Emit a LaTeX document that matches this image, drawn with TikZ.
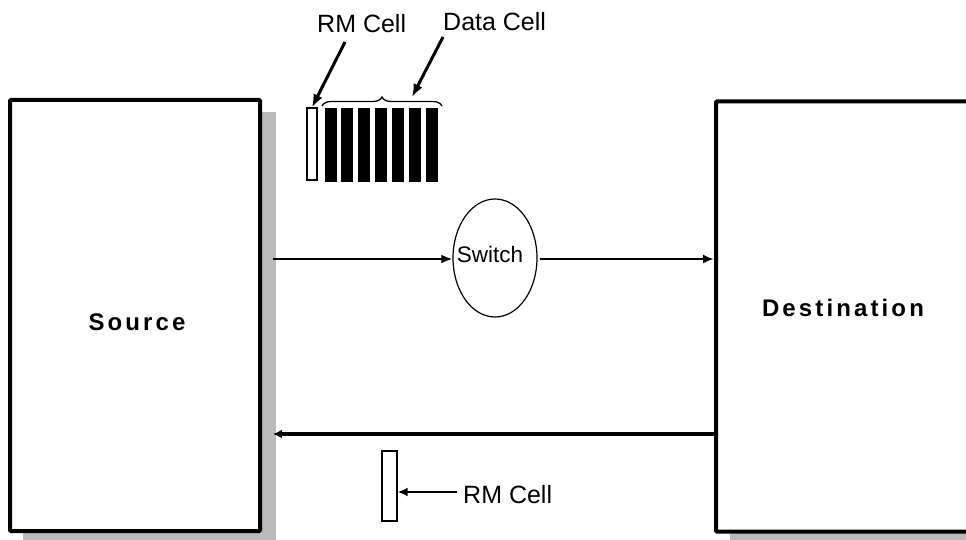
\documentclass[tikz,border=0pt]{standalone}
\usepackage{fontspec}
\setmainfont{Liberation Sans}
\newfontfamily\boxfont[LetterSpace=13]{Liberation Sans Bold}
\usetikzlibrary{arrows.meta,shapes.geometric,decorations.pathreplacing}
\tikzset{
  bigbox/.style={draw, line width=4pt, fill=white, rectangle, inner sep=0pt, rounded corners=1pt},
  shadowbox/.style={fill=black!27, draw=none, rectangle, inner sep=0pt},
  cellw/.style={draw, line width=1.3pt, fill=white, rectangle, inner sep=0pt},
  cellb/.style={draw=none, fill=black, rectangle, inner sep=0pt, minimum width=12pt, minimum height=74pt},
  lbl/.style={font=\fontsize{25}{28}\selectfont, inner sep=0pt},
  boxlbl/.style={font=\fontsize{24}{28}\boxfont, inner sep=0pt},
  flow/.style={line width=2.6pt, -{Latex[length=11pt,width=9pt]}},
  back/.style={line width=4pt, -{Latex[length=9pt,width=9pt]}},
  ptr/.style={line width=3pt, -{Latex[length=13pt,width=10pt]}}
}
\begin{document}
\begin{tikzpicture}[x=1pt,y=-1pt]
\useasboundingbox (0,0) rectangle (966,540);
\clip (0,0) rectangle (966,540);
% shadows
\node[shadowbox, minimum width=253pt, minimum height=440pt] (srcsh) at (149.5,332) {};
\node[shadowbox, minimum width=284pt, minimum height=431pt] (dstsh) at (872,328) {};
% boxes
\node[bigbox, minimum width=250pt, minimum height=431pt] (src) at (135,315.5) {};
\node[bigbox, minimum width=284pt, minimum height=430pt] (dst) at (858,316.5) {};
\node[boxlbl] (srct) at (137,322) {Source};
\node[boxlbl] (dstt) at (843,307.5) {Destination};
% switch
\node[ellipse, draw, line width=1.2pt, minimum width=84pt, minimum height=118pt, inner sep=0pt] (sw) at (495,258) {};
\node[font=\fontsize{22.5}{26}\selectfont, inner sep=0pt, anchor=base] (swt) at (490,262) {Switch};
% forward flow
\coordinate (fstart) at (273,259);
\draw[flow] (fstart) -- (fstart -| sw.west);
\draw[flow] ([xshift=2pt]sw.east |- fstart) -- (fstart -| dst.west);
% return flow
\coordinate (rend) at (273,434);
\draw[back] (rend -| dst.west) -- (rend);
% top cells
\node[cellw, minimum width=10pt, minimum height=72pt] (rm1) at (312,144) {};
\foreach \i in {0,...,6} {
  \node[cellb] (d\i) at (330.5+16.9*\i,145) {};
}
\draw[line width=1.3pt, decorate, decoration={brace, amplitude=9pt}] (322,106) -- (442,106);
\node[lbl, anchor=base west] (lrm1) at (317,33) {RM Cell};
\node[lbl, anchor=base west] (ldc) at (443,31) {Data Cell};
\coordinate (p1) at (345,42);
\coordinate (p2) at (443,37);
\draw[ptr] (p1) -- (rm1.north);
\draw[ptr] (p2) -- (412,97);
% bottom RM cell
\node[cellw, minimum width=15pt, minimum height=70pt] (rm2) at (389.5,486) {};
\node[lbl, anchor=base west] (lrm2) at (463,503) {RM Cell};
\draw[line width=2.6pt, -{Latex[length=10pt,width=9pt]}] (457,492) -- (rm2.east |- 0,492);
\end{tikzpicture}
\end{document}
